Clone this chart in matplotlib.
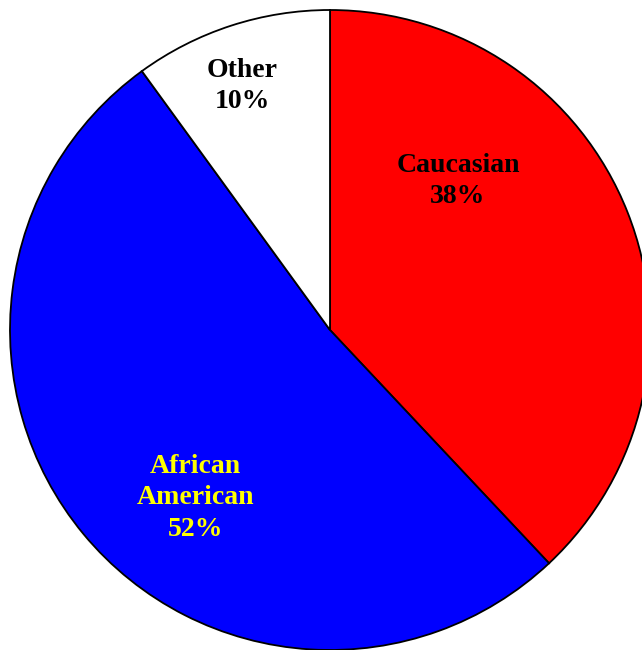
import matplotlib
matplotlib.use("Agg")
import matplotlib.pyplot as plt

labels = ["Caucasian\n38%", "African\nAmerican\n52%", "Other\n10%"]
shares = [38, 52, 10]
colors = ["#ff0000", "#0000ff", "#ffffff"]
text_colors = ["black", "#ffff00", "black"]
# label positions (data units, radius = 1)
label_pos = [(0.40, 0.465), (-0.42, -0.525), (-0.275, 0.762)]

plt.rcParams['font.family'] = ['Liberation Serif', 'DejaVu Serif']

fig = plt.figure(figsize=(6.42, 6.5), dpi=100)
ax = fig.add_axes([0, 0, 1, 1])

ax.pie(shares, colors=colors, startangle=90, counterclock=False,
       wedgeprops=dict(edgecolor="black", linewidth=1.3))

for lab, (x, y), c in zip(labels, label_pos, text_colors):
    ax.text(x, y, lab, ha="center", va="center", color=c,
            fontsize=20, fontweight="bold", linespacing=1.33)

ax.set_aspect("auto")
ax.set_xlim(-1.03125, 0.975)
ax.set_ylim(-1.0, 1.03125)
ax.axis("off")

fig.savefig("out.png", dpi=100)
